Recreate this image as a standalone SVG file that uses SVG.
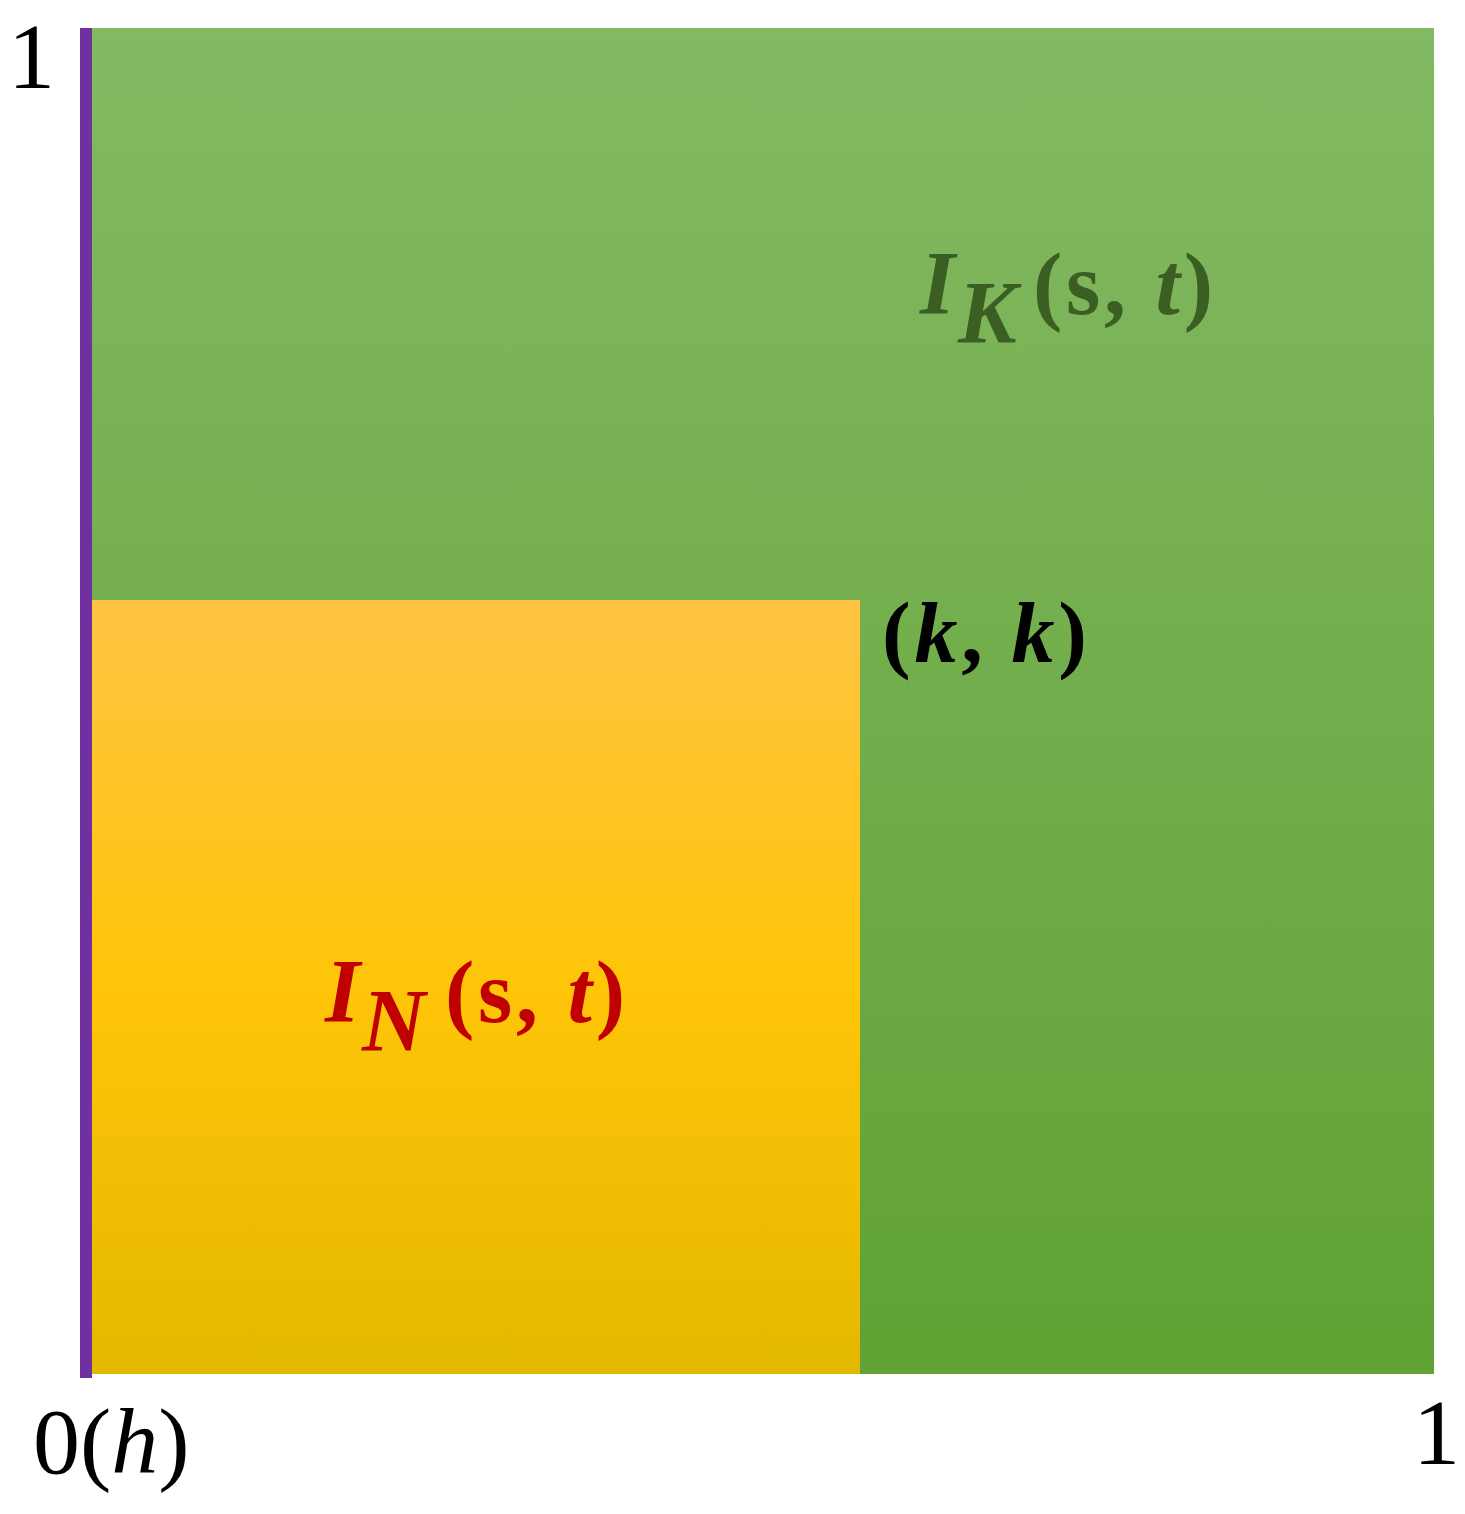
<svg xmlns="http://www.w3.org/2000/svg" width="1465" height="1514" viewBox="0 0 1465 1514">
<defs>
<linearGradient id="gGreen" x1="0" y1="0" x2="0" y2="1">
<stop offset="0" stop-color="#84B963"/>
<stop offset="1" stop-color="#60A234"/>
</linearGradient>
<linearGradient id="gYellow" x1="0" y1="0" x2="0" y2="1">
<stop offset="0" stop-color="#FEC443"/>
<stop offset="0.5" stop-color="#FFC508"/>
<stop offset="1" stop-color="#E4B800"/>
</linearGradient>
<style>
.ax{font-family:"Liberation Serif",serif;font-size:94px;fill:#000}
.m{font-family:"Liberation Serif",serif;font-weight:bold}
.i{font-style:italic}
</style>
</defs>
<g id="regionK">
<rect x="91" y="28" width="1343" height="1346" fill="url(#gGreen)"/>
<text class="m" x="920" y="314" font-size="90" fill="#3B5E22"><tspan class="i">I</tspan></text>
<text class="m" x="958" y="342" font-size="88" fill="#3B5E22"><tspan class="i">K</tspan></text>
<text class="m" x="1033" y="314" font-size="88" fill="#3B5E22" textLength="180" lengthAdjust="spacing">(s, <tspan class="i">t</tspan>)</text>
</g>
<g id="regionN">
<rect x="92" y="600" width="768" height="774" fill="url(#gYellow)"/>
<text class="m" x="325" y="1022" font-size="90" fill="#C00000"><tspan class="i">I</tspan></text>
<text class="m" x="362" y="1050" font-size="88" fill="#C00000"><tspan class="i">N</tspan></text>
<text class="m" x="445" y="1022" font-size="88" fill="#C00000" textLength="180" lengthAdjust="spacing">(s, <tspan class="i">t</tspan>)</text>
</g>
<g id="axis">
<rect x="80" y="28" width="12" height="1350" fill="#7030A0"/>
</g>
<g id="labels">
<text class="m" x="882" y="662" font-size="86" fill="#000" textLength="205" lengthAdjust="spacing">(<tspan class="i">k</tspan>, <tspan class="i">k</tspan>)</text>
<text class="ax" x="8" y="88">1</text>
<text class="ax" x="33" y="1473">0(<tspan font-style="italic">h</tspan>)</text>
<text class="ax" x="1413" y="1464">1</text>
</g>
</svg>
